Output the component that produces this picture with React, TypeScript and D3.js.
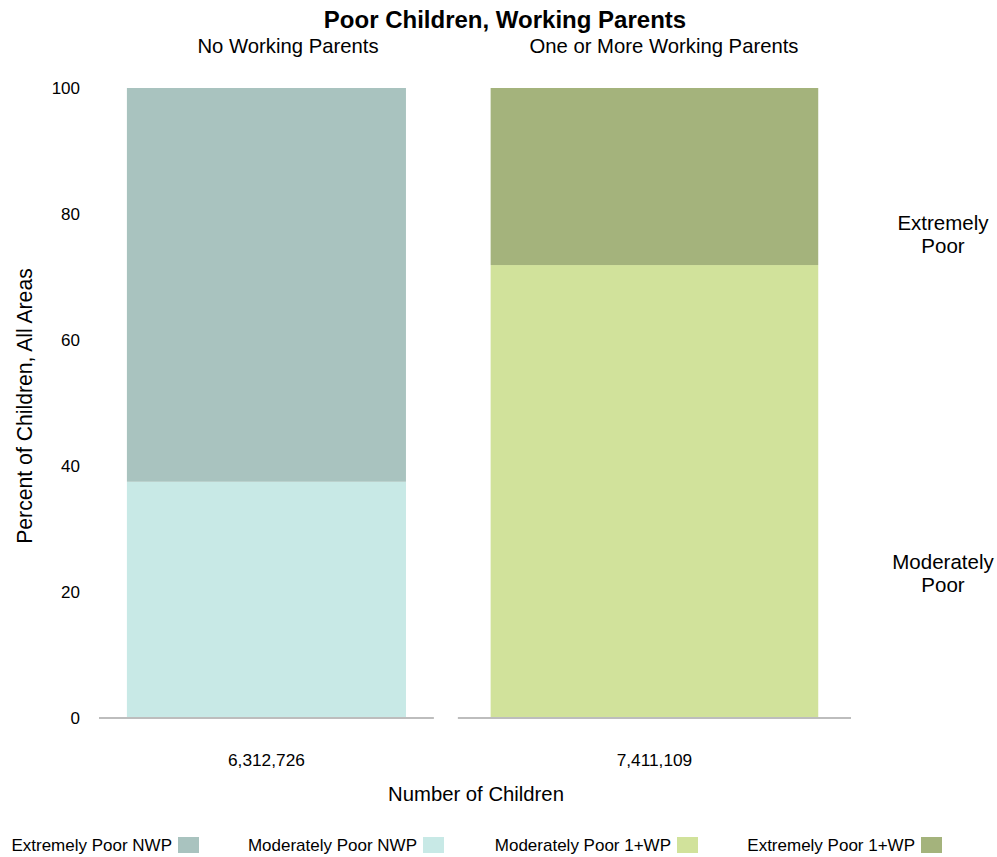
import React from "react";
import * as d3 from "d3";

const groups = ["No Working Parents", "One or More Working Parents"];
const groupCounts = [6312726, 7411109];
const moderatePct = [37.5, 71.9];
const extremePct = [62.5, 28.1];
const yTicks = [0, 20, 40, 60, 80, 100];
const legendLabels = ["Extremely Poor NWP", "Moderately Poor NWP", "Moderately Poor 1+WP", "Extremely Poor 1+WP"];
const legendColors = ["#a9c3bf", "#c8e9e6", "#d1e29b", "#a4b37c"];
const moderateColors = ["#c8e9e6", "#d1e29b"];
const extremeColors = ["#a9c3bf", "#a4b37c"];

const W = 997;
const H = 857;
const FONT = "'Liberation Sans', Arial, Helvetica, sans-serif";

export default function App() {
  const y = d3.scaleLinear().domain([0, 100]).range([718, 88]);
  const left = 99;
  const right = 851;
  const gap = 24;
  const total = d3.sum(groupCounts);
  const wScale = d3.scaleLinear().domain([0, total]).range([0, right - left - gap]);
  const panels = groupCounts.map((c, i) => {
    const x0 = left + wScale(d3.sum(groupCounts.slice(0, i))) + i * gap;
    const w = wScale(c);
    return { x0, w, bx: x0 + w / 12, bw: (w * 10) / 12 };
  });
  const subtitleX = [288, 664];
  const legendSwatchX = [178, 423, 677, 921];

  return (
    <svg width={W} height={H} style={{ position: "absolute", left: 0, top: 0, fontFamily: FONT }}>
      <rect width={W} height={H} fill="#fff" />
      <text x={505} y={28} textAnchor="middle" fontSize={24} fontWeight="bold" fill="#000">
        Poor Children, Working Parents
      </text>
      {groups.map((g, i) => (
        <text key={g} x={subtitleX[i]} y={53} textAnchor="middle" fontSize={20.3} fill="#000">
          {g}
        </text>
      ))}
      {yTicks.map((t) => (
        <text key={t} x={80} y={y(t) + 6} textAnchor="end" fontSize={17} fill="#000">
          {t}
        </text>
      ))}
      <text transform={`translate(32,406) rotate(-90)`} textAnchor="middle" fontSize={21.2} fill="#000">
        Percent of Children, All Areas
      </text>
      {panels.map((p, i) => (
        <g key={i}>
          <rect x={p.bx} y={y(moderatePct[i])} width={p.bw} height={y(0) - y(moderatePct[i])} fill={moderateColors[i]} />
          <rect
            x={p.bx}
            y={y(moderatePct[i] + extremePct[i])}
            width={p.bw}
            height={y(moderatePct[i]) - y(moderatePct[i] + extremePct[i])}
            fill={extremeColors[i]}
          />
          <line x1={p.x0} x2={p.x0 + p.w} y1={y(0)} y2={y(0)} stroke="#bdbdbd" strokeWidth={2} />
          <text x={p.bx + p.bw / 2} y={766} textAnchor="middle" fontSize={17.3} fill="#000">
            {d3.format(",")(groupCounts[i])}
          </text>
        </g>
      ))}
      <text x={476} y={801} textAnchor="middle" fontSize={20.3} fill="#000">
        Number of Children
      </text>
      <text x={943} textAnchor="middle" fontSize={20.5} fill="#000">
        <tspan x={943} y={230}>Extremely</tspan>
        <tspan x={943} y={253}>Poor</tspan>
      </text>
      <text x={943} textAnchor="middle" fontSize={20.5} fill="#000">
        <tspan x={943} y={569}>Moderately</tspan>
        <tspan x={943} y={592}>Poor</tspan>
      </text>
      {legendLabels.map((l, i) => (
        <g key={l}>
          <text x={legendSwatchX[i] - 6} y={851} textAnchor="end" fontSize={17} fill="#000">
            {l}
          </text>
          <rect x={legendSwatchX[i]} y={837} width={21} height={16} fill={legendColors[i]} />
        </g>
      ))}
    </svg>
  );
}
